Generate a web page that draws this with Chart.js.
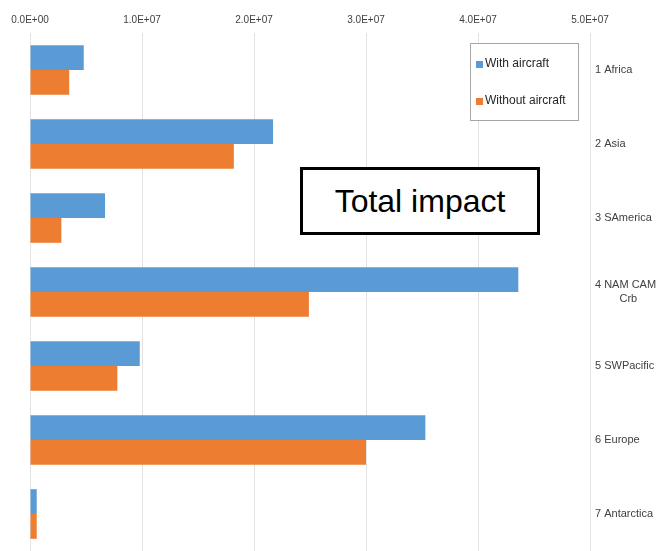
<!DOCTYPE html>
<html>
<head>
<meta charset="utf-8">
<script src="https://cdn.jsdelivr.net/npm/chart.js@4/dist/chart.umd.min.js"></script>
<style>
  body { margin: 0; background: #fff; }
  #wrap { position: relative; width: 658px; height: 551px; }
  #note {
    position: absolute; left: 300px; top: 167px; width: 234px; height: 62px;
    border: 3px solid #000; background: #fff;
    font: 32px "Liberation Sans", Arial, sans-serif; color: #000;
    display: flex; align-items: center; justify-content: center;
  }
</style>
</head>
<body>
<div id="wrap">
  <canvas id="myChart" width="658" height="551"></canvas>
  <div id="note">Total impact</div>
</div>
<script>
// Data
const regions = ["1 Africa", "2 Asia", "3 SAmerica", ["4 NAM CAM", "        Crb"], "5 SWPacific", "6 Europe", "7 Antarctica"];
const withAircraft = [4.8e6, 2.17e7, 6.7e6, 4.36e7, 9.8e6, 3.53e7, 6e5];
const withoutAircraft = [3.5e6, 1.82e7, 2.8e6, 2.49e7, 7.8e6, 3.0e7, 6e5];
const xTicks = [0, 1e7, 2e7, 3e7, 4e7, 5e7];

const sans = '"Liberation Sans", Arial, sans-serif';

function sci(v){
	if (v === 0) return "0.0E+00";
	const e = Math.floor(Math.log10(v));
	const m = (v / Math.pow(10, e)).toFixed(1);
	return m + "E+" + String(e).padStart(2, "0");
}

// legend box drawn inside the plot, top right
const boxLegend = {
	id: 'boxLegend',
	afterDraw(chart){
		const ctx = chart.ctx;
		const x = 470, y = 43, w = 108, h = 77;
		ctx.save();
		ctx.fillStyle = '#fff';
		ctx.fillRect(x, y, w, h);
		ctx.strokeStyle = '#a6a6a6';
		ctx.lineWidth = 1;
		ctx.strokeRect(x + 0.5, y + 0.5, w, h);
		ctx.font = '12px ' + sans;
		ctx.textBaseline = 'middle';
		chart.data.datasets.forEach((ds, i) => {
			const ty = y + 21 + i * 37;
			ctx.fillStyle = ds.backgroundColor;
			ctx.fillRect(x + 6, ty - 3, 7, 7);
			ctx.fillStyle = '#262626';
			ctx.fillText(ds.label, x + 15, ty);
		});
		ctx.restore();
	}
};

let ctx = document.getElementById("myChart");

const config = {
	type: 'bar',
	data: {
		labels: regions,
		datasets: [
			{ label: 'With aircraft', data: withAircraft, backgroundColor: '#5b9bd5' },
			{ label: 'Without aircraft', data: withoutAircraft, backgroundColor: '#ed7d31' }
		]
	},
	options: {
		indexAxis: 'y',
		responsive: false,
		animation: false,
		categoryPercentage: 0.67,
		barPercentage: 1,
		layout: { padding: { left: 30, top: 0, bottom: 0, right: 0 } },
		plugins: {
			legend: { display: false },
			tooltip: { enabled: false }
		},
		scales: {
			x: {
				position: 'top',
				min: 0,
				max: 5e7,
				afterBuildTicks: s => { s.ticks = xTicks.map(v => ({ value: v })); },
				afterFit: s => { s.height = 33; s.paddingLeft = 0; s.paddingRight = 0; },
				grid: { color: '#e3e3e3', drawTicks: false },
				border: { display: false },
				ticks: {
					callback: v => sci(v),
					color: '#404040',
					font: { family: sans, size: 10 },
					padding: 7,
					maxRotation: 0
				}
			},
			y: {
				position: 'right',
				afterFit: s => { s.width = 68; s.paddingTop = 0; s.paddingBottom = 0; },
				grid: { display: false, drawTicks: false },
				border: { display: false },
				ticks: {
					color: '#404040',
					font: { family: sans, size: 11 },
					padding: 5
				}
			}
		}
	},
	plugins: [boxLegend]
};

let myChart = new Chart(ctx, config);
</script>
</body>
</html>
